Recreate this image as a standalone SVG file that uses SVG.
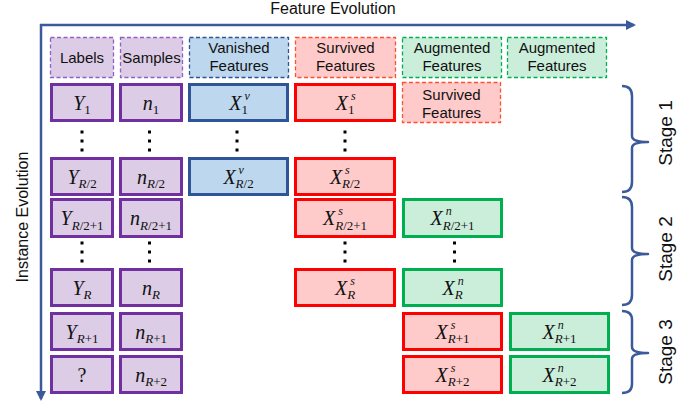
<svg xmlns="http://www.w3.org/2000/svg" width="694" height="407" viewBox="0 0 694 407">
<style>
.lbl{font-family:"Liberation Sans",Arial,sans-serif;font-size:15px;fill:#111;text-anchor:middle}
.ax{font-family:"Liberation Sans",Arial,sans-serif;font-size:16px;fill:#111;text-anchor:middle}
.st{font-family:"Liberation Sans",Arial,sans-serif;font-size:19px;fill:#111;text-anchor:middle}
.m{font-family:"Liberation Serif","Times New Roman",serif;font-size:20px;font-style:italic;fill:#111;text-anchor:end}
.q{font-family:"Liberation Serif","Times New Roman",serif;font-size:20px;fill:#111;text-anchor:middle}
.sub{font-family:"Liberation Serif","Times New Roman",serif;font-size:13px;fill:#111;text-anchor:start}
.sup{font-family:"Liberation Serif","Times New Roman",serif;font-size:12px;font-style:italic;fill:#111;text-anchor:start}
.i{font-style:italic}
.p{fill:#DCCCE6;stroke:#7030A0;stroke-width:3}
.b{fill:#BDD7EE;stroke:#2F5597;stroke-width:3}
.r{fill:#FFCACA;stroke:#FF0000;stroke-width:3}
.g{fill:#CBEEDB;stroke:#00B050;stroke-width:3}
.pd{fill:#DCCCE6;stroke:#9060C8;stroke-width:1.3;stroke-dasharray:4 2.5}
.bd{fill:#BDD7EE;stroke:#2F5597;stroke-width:1.3;stroke-dasharray:4 2.5}
.rd{fill:#FFCACA;stroke:#FF5030;stroke-width:1.3;stroke-dasharray:4 2.5}
.gd{fill:#CBEEDB;stroke:#00B050;stroke-width:1.3;stroke-dasharray:4 2.5}
.axis{stroke:#3A5A9C;stroke-width:2.5;fill:none}
.brace{stroke:#3A5A9C;stroke-width:2.5;fill:none;stroke-linejoin:round}
.dot{fill:#000}
</style>
<defs>
<marker id="ah" viewBox="0 0 10 10" refX="8" refY="5" markerWidth="4" markerHeight="4" markerUnits="strokeWidth" orient="auto">
<path d="M0,0 L10,5 L0,10 z" fill="#3A5A9C"/>
</marker>
</defs>

<g id="connectors">
<line class="axis" x1="40" y1="25" x2="634" y2="25" marker-end="url(#ah)"/>
<line class="axis" x1="41" y1="24" x2="41" y2="399" marker-end="url(#ah)"/>
</g>

<g id="axis-labels">
<text class="ax" x="333" y="14">Feature Evolution</text>
<text class="ax" transform="translate(28 217) rotate(-90)" x="0" y="0">Instance Evolution</text>
</g>

<g id="header-labels"><rect class="pd" x="50.5" y="37.5" width="63" height="40"/><text class="lbl" x="82" y="63">Labels</text></g>
<g id="header-samples"><rect class="pd" x="120.5" y="37.5" width="62" height="40"/><text class="lbl" x="151.5" y="63">Samples</text></g>
<g id="header-vanished"><rect class="bd" x="189.5" y="37.5" width="99" height="40"/><text class="lbl" x="239" y="53">Vanished</text><text class="lbl" x="239" y="71">Features</text></g>
<g id="header-survived"><rect class="rd" x="295.5" y="37.5" width="100" height="40"/><text class="lbl" x="345.5" y="53">Survived</text><text class="lbl" x="345.5" y="71">Features</text></g>
<g id="header-augmented1"><rect class="gd" x="402.5" y="37.5" width="99" height="40"/><text class="lbl" x="452" y="53">Augmented</text><text class="lbl" x="452" y="71">Features</text></g>
<g id="header-augmented2"><rect class="gd" x="507.5" y="37.5" width="99" height="40"/><text class="lbl" x="557" y="53">Augmented</text><text class="lbl" x="557" y="71">Features</text></g>
<g id="survived-note"><rect class="rd" x="402.5" y="82.5" width="98" height="40"/><text class="lbl" x="451.5" y="100">Survived</text><text class="lbl" x="451.5" y="117.5">Features</text></g>

<!-- Row 1 -->
<g id="y1"><rect class="p" x="51.5" y="84.5" width="61" height="36"/><text class="m" x="84.3" y="109.5">Y</text><text class="sub" x="84.3" y="114">1</text></g>
<g id="n1"><rect class="p" x="120.5" y="84.5" width="61" height="36"/><text class="m" x="152.8" y="109.5">n</text><text class="sub" x="152.8" y="114">1</text></g>
<g id="xv1"><rect class="b" x="189.5" y="84.5" width="98" height="36"/><text class="m" x="241.4" y="109.5">X</text><text class="sup" x="244.4" y="99.5">v</text><text class="sub" x="241.4" y="114">1</text></g>
<g id="xs1"><rect class="r" x="295.5" y="84.5" width="99" height="36"/><text class="m" x="347.9" y="109.5">X</text><text class="sup" x="350.9" y="99.5">s</text><text class="sub" x="347.9" y="114">1</text></g>

<!-- Row 2 -->
<g id="yR2"><rect class="p" x="51.5" y="158.5" width="61" height="36"/><text class="m" x="78.6" y="183.5">Y</text><text class="sub" x="78.6" y="188"><tspan class="i">R</tspan>/2</text></g>
<g id="nR2"><rect class="p" x="120.5" y="158.5" width="61" height="36"/><text class="m" x="147" y="183.5">n</text><text class="sub" x="147" y="188"><tspan class="i">R</tspan>/2</text></g>
<g id="xvR2"><rect class="b" x="189.5" y="158.5" width="98" height="36"/><text class="m" x="235.6" y="183.5">X</text><text class="sup" x="238.6" y="173.5">v</text><text class="sub" x="235.6" y="188"><tspan class="i">R</tspan>/2</text></g>
<g id="xsR2"><rect class="r" x="295.5" y="158.5" width="99" height="36"/><text class="m" x="342.1" y="183.5">X</text><text class="sup" x="345.1" y="173.5">s</text><text class="sub" x="342.1" y="188"><tspan class="i">R</tspan>/2</text></g>

<!-- Row 3 -->
<g id="yR21"><rect class="p" x="51.5" y="199.5" width="61" height="37"/><text class="m" x="71.7" y="225">Y</text><text class="sub" x="71.7" y="229.5"><tspan class="i">R</tspan>/2+1</text></g>
<g id="nR21"><rect class="p" x="120.5" y="199.5" width="61" height="37"/><text class="m" x="140.1" y="225">n</text><text class="sub" x="140.1" y="229.5"><tspan class="i">R</tspan>/2+1</text></g>
<g id="xsR21"><rect class="r" x="295.5" y="199.5" width="99" height="37"/><text class="m" x="335.2" y="225">X</text><text class="sup" x="338.2" y="215">s</text><text class="sub" x="335.2" y="229.5"><tspan class="i">R</tspan>/2+1</text></g>
<g id="xnR21"><rect class="g" x="403.5" y="199.5" width="98" height="37"/><text class="m" x="442.7" y="225">X</text><text class="sup" x="445.7" y="215">n</text><text class="sub" x="442.7" y="229.5"><tspan class="i">R</tspan>/2+1</text></g>

<!-- Row 4 -->
<g id="yR"><rect class="p" x="51.5" y="269.5" width="61" height="36"/><text class="m" x="83.6" y="294.5">Y</text><text class="sub" x="83.6" y="299"><tspan class="i">R</tspan></text></g>
<g id="nR"><rect class="p" x="120.5" y="269.5" width="61" height="36"/><text class="m" x="152" y="294.5">n</text><text class="sub" x="152" y="299"><tspan class="i">R</tspan></text></g>
<g id="xsR"><rect class="r" x="295.5" y="269.5" width="99" height="36"/><text class="m" x="347.2" y="294.5">X</text><text class="sup" x="350.2" y="284.5">s</text><text class="sub" x="347.2" y="299"><tspan class="i">R</tspan></text></g>
<g id="xnR"><rect class="g" x="403.5" y="269.5" width="98" height="36"/><text class="m" x="454.7" y="294.5">X</text><text class="sup" x="457.7" y="284.5">n</text><text class="sub" x="454.7" y="299"><tspan class="i">R</tspan></text></g>

<!-- Row 5 -->
<g id="yR1"><rect class="p" x="51.5" y="313.5" width="61" height="36"/><text class="m" x="76.7" y="338.5">Y</text><text class="sub" x="76.7" y="343"><tspan class="i">R</tspan>+1</text></g>
<g id="nR1"><rect class="p" x="120.5" y="313.5" width="61" height="36"/><text class="m" x="145.2" y="338.5">n</text><text class="sub" x="145.2" y="343"><tspan class="i">R</tspan>+1</text></g>
<g id="xsR1"><rect class="r" x="403.5" y="313.5" width="98" height="36"/><text class="m" x="447.8" y="338.5">X</text><text class="sup" x="450.8" y="328.5">s</text><text class="sub" x="447.8" y="343"><tspan class="i">R</tspan>+1</text></g>
<g id="xnR1"><rect class="g" x="510.5" y="313.5" width="98" height="36"/><text class="m" x="554.8" y="338.5">X</text><text class="sup" x="557.8" y="328.5">n</text><text class="sub" x="554.8" y="343"><tspan class="i">R</tspan>+1</text></g>

<!-- Row 6 -->
<g id="q"><rect class="p" x="51.5" y="356.5" width="61" height="36"/><text class="q" x="82" y="381.5">?</text></g>
<g id="nR2b"><rect class="p" x="120.5" y="356.5" width="61" height="36"/><text class="m" x="145.2" y="381.5">n</text><text class="sub" x="145.2" y="386"><tspan class="i">R</tspan>+2</text></g>
<g id="xsR2b"><rect class="r" x="403.5" y="356.5" width="98" height="36"/><text class="m" x="447.8" y="381.5">X</text><text class="sup" x="450.8" y="371.5">s</text><text class="sub" x="447.8" y="386"><tspan class="i">R</tspan>+2</text></g>
<g id="xnR2b"><rect class="g" x="510.5" y="356.5" width="98" height="36"/><text class="m" x="554.8" y="381.5">X</text><text class="sup" x="557.8" y="371.5">n</text><text class="sub" x="554.8" y="386"><tspan class="i">R</tspan>+2</text></g>

<g id="dots">
<rect class="dot" x="80.5" y="130.5" width="3" height="3"/><rect class="dot" x="80.5" y="139.5" width="3" height="3"/><rect class="dot" x="80.5" y="148.5" width="3" height="3"/>
<rect class="dot" x="148" y="130.5" width="3" height="3"/><rect class="dot" x="148" y="139.5" width="3" height="3"/><rect class="dot" x="148" y="148.5" width="3" height="3"/>
<rect class="dot" x="235.5" y="130.5" width="3" height="3"/><rect class="dot" x="235.5" y="139.5" width="3" height="3"/><rect class="dot" x="235.5" y="148.5" width="3" height="3"/>
<rect class="dot" x="343.5" y="130.5" width="3" height="3"/><rect class="dot" x="343.5" y="139.5" width="3" height="3"/><rect class="dot" x="343.5" y="148.5" width="3" height="3"/>
<rect class="dot" x="80.5" y="241.5" width="3" height="3"/><rect class="dot" x="80.5" y="250.5" width="3" height="3"/><rect class="dot" x="80.5" y="259.5" width="3" height="3"/>
<rect class="dot" x="148" y="241.5" width="3" height="3"/><rect class="dot" x="148" y="250.5" width="3" height="3"/><rect class="dot" x="148" y="259.5" width="3" height="3"/>
<rect class="dot" x="343.5" y="241.5" width="3" height="3"/><rect class="dot" x="343.5" y="250.5" width="3" height="3"/><rect class="dot" x="343.5" y="259.5" width="3" height="3"/>
<rect class="dot" x="453" y="241.5" width="3" height="3"/><rect class="dot" x="453" y="250.5" width="3" height="3"/><rect class="dot" x="453" y="259.5" width="3" height="3"/>
</g>

<g id="stage1">
<path class="brace" d="M622,86 Q632,86 632,96 L632,136 Q632,142 648,142 Q632,142 632,148 L632,182 Q632,192 622,192"/>
<text class="st" transform="translate(672 133) rotate(-90)" x="0" y="0">Stage 1</text>
</g>
<g id="stage2">
<path class="brace" d="M622,197 Q632,197 632,207 L632,248 Q632,254 648,254 Q632,254 632,260 L632,295 Q632,305 622,305"/>
<text class="st" transform="translate(672 249) rotate(-90)" x="0" y="0">Stage 2</text>
</g>
<g id="stage3">
<path class="brace" d="M622,311 Q632,311 632,320 L632,347 Q632,353 648,353 Q632,353 632,359 L632,384 Q632,393 622,393"/>
<text class="st" transform="translate(672 352) rotate(-90)" x="0" y="0">Stage 3</text>
</g>
</svg>
